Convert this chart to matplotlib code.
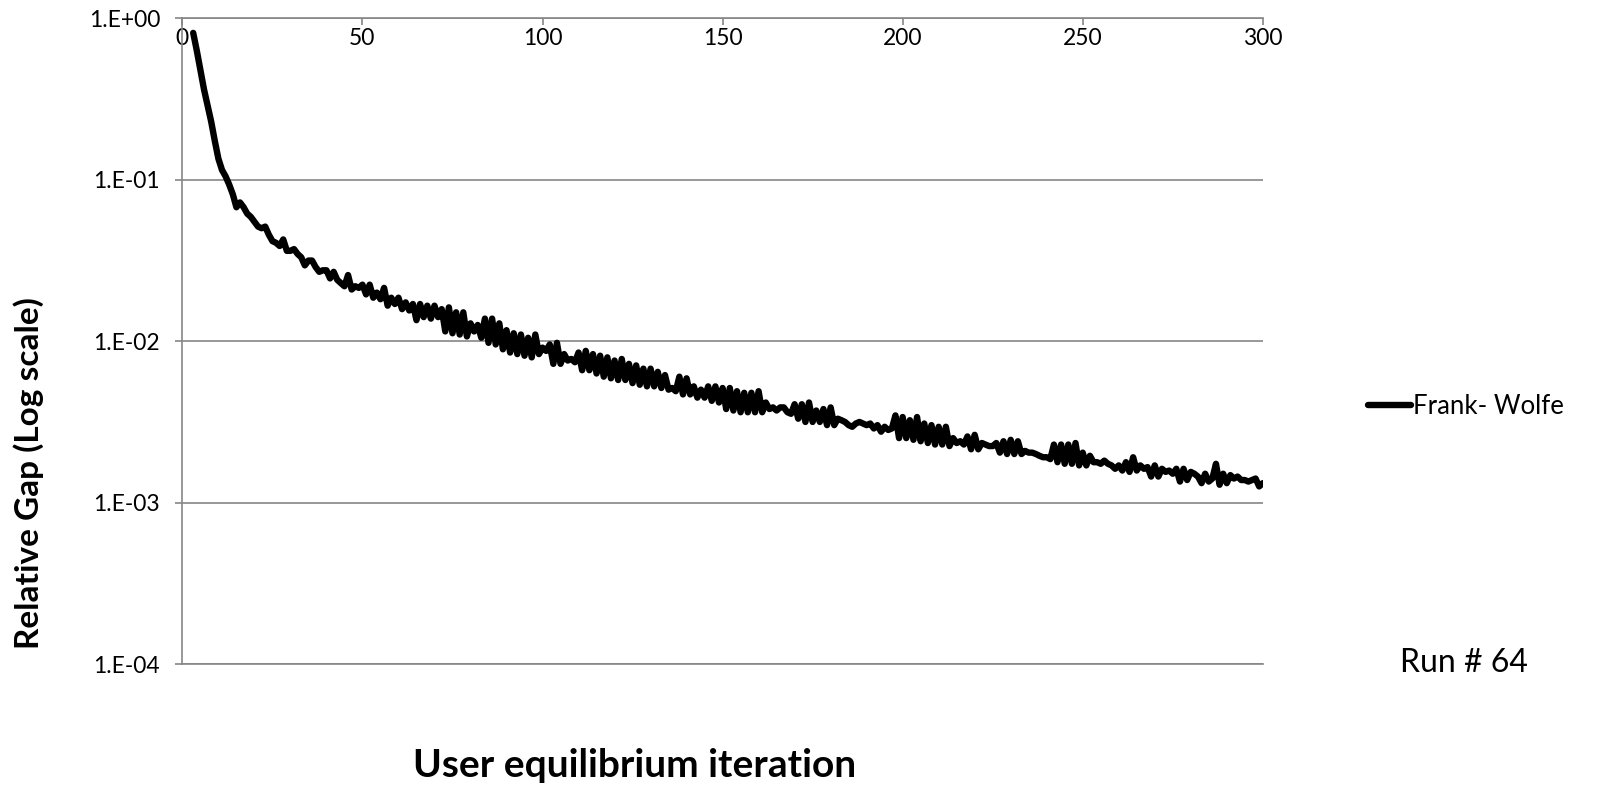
import matplotlib.pyplot as plt

# Datos (gap relativo por iteracion, desde la 3 hasta la 300)
iter_ini = 3
gap = [
    0.813, 0.631, 0.479, 0.363, 0.288, 0.229, 0.174, 0.135, 0.115, 0.105,
    0.0933, 0.0813, 0.0676, 0.0724, 0.0676, 0.0617, 0.0589, 0.0550, 0.0513, 0.0501,
    0.0513, 0.0457, 0.0417, 0.0407, 0.0389, 0.0427, 0.0363, 0.0363, 0.0372, 0.0347,
    0.0331, 0.0295, 0.0316, 0.0316, 0.0288, 0.0269, 0.0275, 0.0275, 0.0245, 0.0269,
    0.0240, 0.0229, 0.0219, 0.0257, 0.0209, 0.0219, 0.0214, 0.0224, 0.0195, 0.0224,
    0.0186, 0.0200, 0.0182, 0.0214, 0.0166, 0.0186, 0.0170, 0.0186, 0.0158, 0.0174,
    0.0155, 0.0170, 0.0135, 0.0170, 0.0141, 0.0166, 0.0138, 0.0166, 0.0141, 0.0158,
    0.0115, 0.0162, 0.0112, 0.0151, 0.0110, 0.0151, 0.0107, 0.0129, 0.0115, 0.0126,
    0.0105, 0.0138, 0.00977, 0.0138, 0.00955, 0.0129, 0.00891, 0.0117, 0.00851, 0.0112,
    0.00832, 0.0110, 0.00813, 0.0105, 0.00794, 0.0110, 0.00832, 0.00912, 0.00871, 0.00955,
    0.00724, 0.00977, 0.00724, 0.00832, 0.00759, 0.00776, 0.00741, 0.00851, 0.00661, 0.00871,
    0.00661, 0.00832, 0.00631, 0.00813, 0.00603, 0.00794, 0.00589, 0.00759, 0.00575, 0.00776,
    0.00575, 0.00724, 0.00550, 0.00708, 0.00537, 0.00676, 0.00525, 0.00676, 0.00525, 0.00646,
    0.00513, 0.00617, 0.00501, 0.00513, 0.00490, 0.00603, 0.00468, 0.00589, 0.00468, 0.00525,
    0.00447, 0.00501, 0.00447, 0.00525, 0.00427, 0.00525, 0.00417, 0.00513, 0.00380, 0.00513,
    0.00372, 0.00490, 0.00363, 0.00479, 0.00363, 0.00479, 0.00363, 0.00490, 0.00363, 0.00417,
    0.00380, 0.00389, 0.00372, 0.00389, 0.00389, 0.00363, 0.00355, 0.00407, 0.00331, 0.00407,
    0.00316, 0.00417, 0.00316, 0.00372, 0.00316, 0.00380, 0.00302, 0.00389, 0.00302, 0.00331,
    0.00324, 0.00316, 0.00302, 0.00295, 0.00309, 0.00316, 0.00309, 0.00302, 0.00309, 0.00288,
    0.00302, 0.00275, 0.00295, 0.00282, 0.00288, 0.00347, 0.00251, 0.00339, 0.00251, 0.00324,
    0.00245, 0.00339, 0.00240, 0.00309, 0.00234, 0.00302, 0.00229, 0.00295, 0.00229, 0.00295,
    0.00224, 0.00251, 0.00234, 0.00240, 0.00229, 0.00257, 0.00214, 0.00263, 0.00214, 0.00234,
    0.00229, 0.00224, 0.00224, 0.00234, 0.00204, 0.00240, 0.00200, 0.00245, 0.00200, 0.00240,
    0.00200, 0.00209, 0.00204, 0.00204, 0.00200, 0.00195, 0.00191, 0.00191, 0.00186, 0.00229,
    0.00178, 0.00229, 0.00174, 0.00229, 0.00174, 0.00234, 0.00170, 0.00204, 0.00170, 0.00195,
    0.00178, 0.00178, 0.00174, 0.00182, 0.00174, 0.00170, 0.00162, 0.00170, 0.00158, 0.00178,
    0.00155, 0.00191, 0.00158, 0.00170, 0.00162, 0.00166, 0.00145, 0.00170, 0.00145, 0.00162,
    0.00155, 0.00158, 0.00151, 0.00162, 0.00135, 0.00162, 0.00138, 0.00155, 0.00151, 0.00145,
    0.00132, 0.00151, 0.00135, 0.00141, 0.00174, 0.00129, 0.00151, 0.00132, 0.00148, 0.00141,
    0.00145, 0.00138, 0.00138, 0.00135, 0.00138, 0.00141, 0.00126, 0.00132,
]
iteraciones = list(range(iter_ini, iter_ini + len(gap)))

x_ticks = [0, 50, 100, 150, 200, 250, 300]
y_ticks = [1e0, 1e-1, 1e-2, 1e-3, 1e-4]
y_etiquetas = ['1.E+00', '1.E-01', '1.E-02', '1.E-03', '1.E-04']

plt.rcParams['font.family'] = ['Lato', 'DejaVu Sans']
gris = '#868686'

fig = plt.figure(figsize=(16.07, 7.89), dpi=100)
grafico = fig.add_axes([0.1135, 0.1584, 0.6723, 0.8183])

grafico.plot(iteraciones, gap, color='black', linewidth=4.6,
             solid_capstyle='round', solid_joinstyle='round', label='Frank- Wolfe')

grafico.set_yscale('log')
grafico.set_ylim(1e-4, 1e0)
grafico.set_xlim(0, 300)
grafico.set_yticks(y_ticks)
grafico.set_yticklabels(y_etiquetas)
grafico.minorticks_off()
grafico.yaxis.grid(True, color=gris, linewidth=1.2)
grafico.set_axisbelow(True)

grafico.xaxis.tick_top()
grafico.set_xticks(x_ticks)
grafico.tick_params(axis='x', direction='in', length=5, color=gris, width=1.2,
                    pad=-22, labelsize=16.5)
grafico.tick_params(axis='y', direction='out', length=5, color=gris, width=1.2,
                    pad=11, labelsize=16.5)

for lado in ['top', 'bottom', 'left']:
    grafico.spines[lado].set_color(gris)
    grafico.spines[lado].set_linewidth(1.2)
grafico.spines['right'].set_visible(False)

fig.text(0.018, 0.40, 'Relative Gap (Log scale)', rotation=90, fontsize=24,
         fontweight='bold', ha='center', va='center')
fig.text(0.395, 0.03, 'User equilibrium iteration', fontsize=28,
         fontweight='bold', ha='center', va='center')
fig.text(0.911, 0.160, 'Run # 64', fontsize=23, ha='center', va='center')

grafico.legend(loc='center left', bbox_to_anchor=(0.851, 0.485),
               bbox_transform=fig.transFigure, frameon=False, fontsize=18.5,
               handlelength=1.7, handletextpad=0.05, borderpad=0, borderaxespad=0)

plt.savefig('out.png', dpi=100)
